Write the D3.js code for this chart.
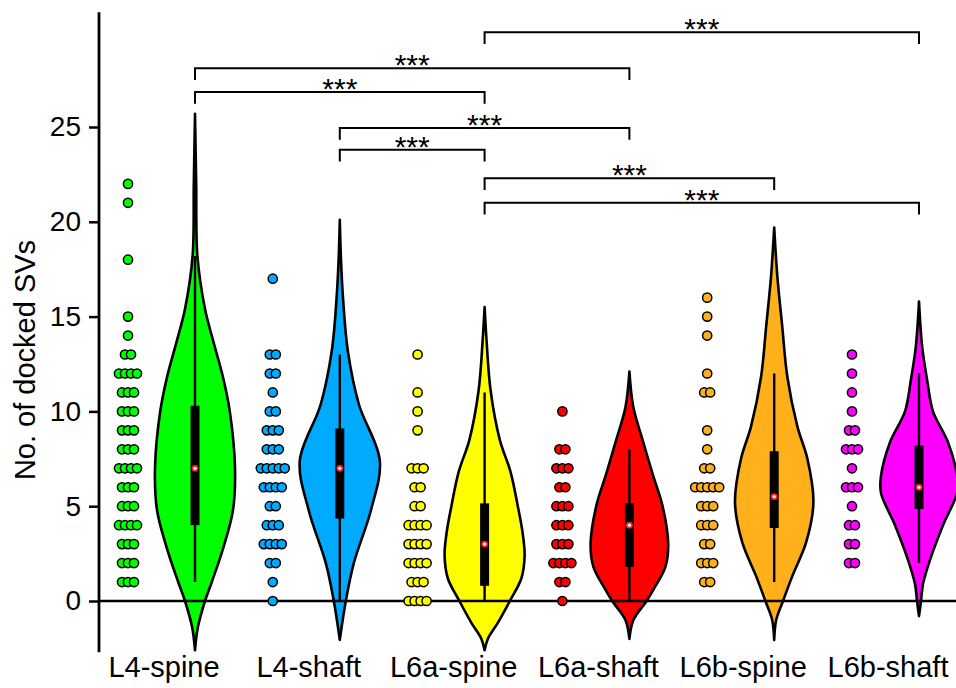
<!DOCTYPE html>
<html>
<head>
<meta charset="utf-8">
<script src="https://cdn.jsdelivr.net/npm/d3@7"></script>
<style>
  body { margin: 0; background: #fff; }
  svg text { font-family: "Liberation Sans", Arial, sans-serif; fill: #000; }
</style>
</head>
<body>
<div id="chart"></div>
<script>
(function() {
  // groups and colours
  var groups = ['L4-spine', 'L4-shaft', 'L6a-spine', 'L6a-shaft', 'L6b-spine', 'L6b-shaft']
  var colors = ['#00ff00', '#00aaff', '#ffff00', '#ff0000', '#ffb01a', '#ff00ff']
  var yTicks = [0, 5, 10, 15, 20, 25]

  // individual values (docked SVs per cell)
  var dotsL4Spine = [22, 21, 18, 15, 14, 13, 13, 12, 12, 12, 12, 11, 11, 11, 10, 10, 10, 9, 9, 9,
    8, 8, 8, 7, 7, 7, 7, 6, 6, 6, 5, 5, 5, 4, 4, 4, 4, 3, 3, 3, 2, 2, 2, 1, 1, 1]
  var dotsL4Shaft = [17, 13, 13, 12, 12, 11, 10, 10, 9, 9, 9, 8, 8, 8, 7, 7, 7, 7, 7, 6, 6, 6, 6,
    5, 5, 4, 4, 4, 3, 3, 3, 3, 2, 2, 1, 0]
  var dotsL6aSpine = [13, 11, 10, 9, 7, 7, 7, 6, 6, 5, 5, 4, 4, 4, 4, 3, 3, 3, 3, 2, 2, 2, 2,
    1, 1, 1, 0, 0, 0, 0]
  var dotsL6aShaft = [10, 8, 8, 7, 7, 7, 6, 6, 5, 5, 5, 4, 4, 4, 3, 3, 3, 2, 2, 2, 2, 1, 1, 0]
  var dotsL6bSpine = [16, 15, 14, 12, 11, 11, 9, 8, 7, 7, 6, 6, 6, 6, 6, 5, 5, 5, 4, 4, 4,
    3, 3, 2, 2, 2, 1, 1]
  var dotsL6bShaft = [13, 12, 11, 10, 9, 9, 8, 8, 8, 7, 6, 6, 6, 5, 4, 4, 3, 3, 2, 2]
  var dots = [dotsL4Spine, dotsL4Shaft, dotsL6aSpine, dotsL6aShaft, dotsL6bSpine, dotsL6bShaft]

  // box plot stats
  var medians = [7, 7, 3, 4, 5.5, 6]
  var q1 = [4, 4.35, 0.8, 1.8, 3.85, 4.85]
  var q3 = [10.3, 9.1, 5.15, 5.15, 7.9, 8.2]
  var whiskerLow = [1, 0, 0, 0, 1, 2]
  var whiskerHigh = [18.2, 13, 11, 8, 12, 12]

  // violin outlines: [value, relative density]
  var violinL4Spine = [[25.7, 0], [22, 0.03], [18.2, 0.06], [15.4, 0.25], [13.6, 0.47], [11.8, 0.7],
    [10, 0.87], [7, 1], [4.8, 0.95], [2.9, 0.72], [1, 0.42], [0, 0.25], [-1.4, 0.07], [-2.6, 0]]
  var violinL4Shaft = [[20.1, 0], [18, 0.03], [16, 0.08], [13.2, 0.2], [10.35, 0.48], [7.4, 1],
    [4.8, 0.78], [2, 0.35], [0, 0.15], [-2.05, 0]]
  var violinL6aSpine = [[15.5, 0], [13.7, 0.05], [11.1, 0.15], [8.5, 0.38], [6.8, 0.65], [5, 0.83],
    [3.6, 0.95], [2.4, 1], [1.2, 0.92], [0, 0.63], [-1.15, 0.33], [-2, 0.08], [-2.6, 0]]
  var violinL6aShaft = [[12.1, 0], [10.2, 0.1], [8.5, 0.33], [6.7, 0.58], [5, 0.83], [3, 0.97],
    [1.8, 0.9], [0.6, 0.6], [0, 0.43], [-1, 0.1], [-2, 0]]
  var violinL6bSpine = [[19.7, 0], [17.1, 0.08], [14.5, 0.2], [11.8, 0.33], [9.2, 0.58], [7.5, 0.83],
    [5.2, 0.98], [3.1, 0.8], [1.3, 0.45], [0, 0.22], [-1, 0.05], [-2.05, 0]]
  var violinL6bShaft = [[15.8, 0], [13.4, 0.08], [11.7, 0.2], [10, 0.35], [8.4, 0.72], [6.6, 0.95],
    [5.7, 0.95], [4, 0.6], [2.2, 0.28], [0.9, 0.1], [0, 0.05], [-0.8, 0]]
  var violins = [violinL4Spine, violinL4Shaft, violinL6aSpine, violinL6aShaft, violinL6bSpine, violinL6bShaft]

  // significance brackets (group index from / to, height in y units)
  var bracketFrom = [0, 0, 2, 1, 1, 2, 2]
  var bracketTo = [2, 3, 5, 3, 2, 4, 5]
  var bracketLevel = [26.85, 28.1, 30.0, 24.95, 23.8, 22.3, 21.0]
  var bracketText = ['***', '***', '***', '***', '***', '***', '***']

  var width = 956
  var height = 688

  var svg = d3.select('#chart')
    .append('svg')
    .attr('width', width)
    .attr('height', height)

  var yScale = d3.scaleLinear().domain([0, 25]).range([601, 127])
  var xScale = d3.scalePoint().domain(groups).range([195, 919])
  var widthScale = d3.scaleLinear().domain([0, 1]).range([0, 40])
  var axisX = 99

  // violins
  var area = d3.area()
    .curve(d3.curveCatmullRom)
    .y(d => yScale(d[0]))

  groups.forEach(function(g, i) {
    var cx = xScale(g)
    area.x0(d => cx - widthScale(d[1])).x1(d => cx + widthScale(d[1]))
    svg.append('path')
      .attr('class', 'violin')
      .attr('d', area(violins[i]))
      .attr('fill', colors[i])
      .attr('stroke', '#000')
      .attr('stroke-width', 2.6)
      .attr('stroke-linejoin', 'round')
  })

  // zero line
  svg.append('line')
    .attr('x1', axisX).attr('x2', width)
    .attr('y1', yScale(0)).attr('y2', yScale(0))
    .attr('stroke', '#000').attr('stroke-width', 2.5)

  // box plots
  groups.forEach(function(g, i) {
    var cx = xScale(g)
    svg.append('line')
      .attr('x1', cx).attr('x2', cx)
      .attr('y1', yScale(whiskerLow[i])).attr('y2', yScale(whiskerHigh[i]))
      .attr('stroke', '#000').attr('stroke-width', 2.4)
    svg.append('rect')
      .attr('x', cx - 4.5).attr('width', 9)
      .attr('y', yScale(q3[i]))
      .attr('height', yScale(q1[i]) - yScale(q3[i]))
      .attr('fill', '#000')
    svg.append('circle')
      .attr('cx', cx).attr('cy', yScale(medians[i]))
      .attr('r', 3.4).attr('fill', '#ff2020')
    svg.append('circle')
      .attr('cx', cx).attr('cy', yScale(medians[i]))
      .attr('r', 1.6).attr('fill', '#fff')
  })

  // dots, stacked side by side when values repeat
  groups.forEach(function(g, i) {
    var cx = xScale(g) - 67
    var rows = d3.groups(dots[i], d => d)
    rows.forEach(function(row) {
      var n = row[1].length
      row[1].forEach(function(v, j) {
        svg.append('circle')
          .attr('cx', cx + (j - (n - 1) / 2) * 6)
          .attr('cy', yScale(v))
          .attr('r', 4.6)
          .attr('fill', colors[i])
          .attr('stroke', '#000')
          .attr('stroke-width', 1.5)
      })
    })
  })

  // y axis
  var yAxis = d3.axisLeft(yScale)
    .tickValues(yTicks)
    .tickSize(10)
    .tickPadding(8)
  var yg = svg.append('g')
    .attr('class', 'axis y-axis')
    .attr('transform', `translate(${axisX},0)`)
    .call(yAxis)
  yg.select('.domain').remove()
  yg.selectAll('.tick line').attr('stroke', '#000').attr('stroke-width', 2.5)
  yg.selectAll('.tick text')
    .attr('font-size', 28)
    .style('font-family', '"Liberation Sans", Arial, sans-serif')
    .attr('fill', '#000')
  svg.append('line')
    .attr('x1', axisX).attr('x2', axisX)
    .attr('y1', yScale(-2.7)).attr('y2', yScale(31.05))
    .attr('stroke', '#000').attr('stroke-width', 2.8)

  svg.append('text')
    .attr('transform', `translate(35,${yScale(12.5) - 4}) rotate(-90)`)
    .attr('text-anchor', 'middle')
    .attr('font-size', 29)
    .text('No. of docked SVs')

  // category labels
  svg.selectAll('.cat-label')
    .data(groups)
    .enter().append('text')
    .attr('class', 'cat-label')
    .attr('x', d => xScale(d) - 31)
    .attr('y', 677)
    .attr('text-anchor', 'middle')
    .attr('font-size', 29)
    .text(d => d)

  // brackets
  bracketLevel.forEach(function(lv, k) {
    var x1 = xScale(groups[bracketFrom[k]])
    var x2 = xScale(groups[bracketTo[k]])
    var yTop = yScale(lv)
    var yEnd = yScale(lv - 0.62)
    svg.append('path')
      .attr('d', `M${x1},${yEnd}V${yTop}H${x2}V${yEnd}`)
      .attr('fill', 'none')
      .attr('stroke', '#000')
      .attr('stroke-width', 2)
    svg.append('text')
      .attr('x', (x1 + x2) / 2)
      .attr('y', yTop + 7)
      .attr('text-anchor', 'middle')
      .attr('font-size', 30)
      .text(bracketText[k])
  })
})()
</script>
</body>
</html>
